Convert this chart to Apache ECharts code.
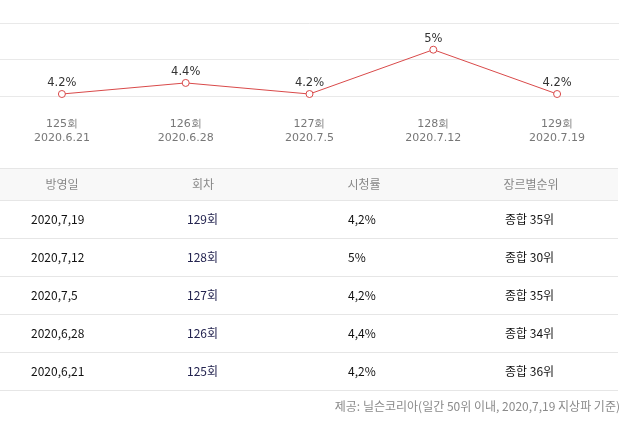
<!DOCTYPE html>
<html>
<head>
<meta charset="utf-8">
<script src="https://cdn.jsdelivr.net/npm/echarts@6/dist/echarts.min.js"></script>
<style>
html,body{margin:0;padding:0;background:#fff;}
#chart{width:625px;height:425px;}
</style>
</head>
<body>
<div id="chart"></div>
<script>
// ---- chart data ----
const episodes = ['125회', '126회', '127회', '128회', '129회'];
const airDates = ['2020.6.21', '2020.6.28', '2020.7.5', '2020.7.12', '2020.7.19'];
const ratings = [4.2, 4.4, 4.2, 5, 4.2];

// ---- table data ----
const tableHeaders = ['방영일', '회차', '시청률', '장르별순위'];
const tableDates = ['2020,7,19', '2020,7,12', '2020,7,5', '2020,6,28', '2020,6,21'];
const tableEpisodes = ['129회', '128회', '127회', '126회', '125회'];
const tableRatings = ['4,2%', '5%', '4,2%', '4,4%', '4,2%'];
const tableRanks = ['종합 35위', '종합 30위', '종합 35위', '종합 34위', '종합 36위'];
const footnote = '제공: 닐슨코리아(일간 50위 이내, 2020,7,19 지상파 기준)';

const chart = echarts.init(document.getElementById('chart'), null, {renderer: 'canvas'});

const categories = episodes.map((e, i) => e + '\n' + airDates[i]);

// table layout
const tblLeft = 0, tblRight = 618;
const headTop = 168, headBottom = 200, rowH = 38;
const headCenters = [62, 203, 364, 531];
const bodyLefts = [31, 187, 348, 505];
const bodyCols = [tableDates, tableEpisodes, tableRatings, tableRanks];
const bodyColors = ['#111', '#23234f', '#111', '#111'];
const lineColor = '#e6e6e6';
const kFont = '"Noto Sans CJK KR", sans-serif';

const graphics = [];
graphics.push({type: 'rect', shape: {x: tblLeft, y: headTop, width: tblRight - tblLeft, height: headBottom - headTop},
  style: {fill: '#f8f8f8'}, silent: true});
graphics.push({type: 'line', shape: {x1: tblLeft, y1: headTop + 0.5, x2: tblRight, y2: headTop + 0.5}, style: {stroke: lineColor, lineWidth: 1}});
tableHeaders.forEach((h, i) => {
  graphics.push({type: 'text', x: headCenters[i], y: (headTop + headBottom) / 2,
    style: {text: h, fill: '#888', font: '12px ' + kFont, align: 'center', verticalAlign: 'middle'}});
});
for (let r = 0; r < tableDates.length; r++) {
  const top = headBottom + r * rowH;
  graphics.push({type: 'line', shape: {x1: tblLeft, y1: top + 0.5, x2: tblRight, y2: top + 0.5}, style: {stroke: lineColor, lineWidth: 1}});
  bodyCols.forEach((col, c) => {
    graphics.push({type: 'text', x: bodyLefts[c], y: top + rowH / 2,
      style: {text: col[r], fill: bodyColors[c], font: '12px ' + kFont, align: 'left', verticalAlign: 'middle'}});
  });
}
const tblBottom = headBottom + tableDates.length * rowH;
graphics.push({type: 'line', shape: {x1: tblLeft, y1: tblBottom + 0.5, x2: tblRight, y2: tblBottom + 0.5}, style: {stroke: lineColor, lineWidth: 1}});
graphics.push({type: 'text', x: 620, y: 406,
  style: {text: footnote, fill: '#8a8a8a', font: '12px ' + kFont, align: 'right', verticalAlign: 'middle'}});

chart.setOption({
  animation: false,
  backgroundColor: '#fff',
  grid: {left: 0, right: 6, top: 23, bottom: 329, containLabel: false},
  xAxis: {
    type: 'category',
    data: categories,
    boundaryGap: true,
    axisLine: {show: false},
    axisTick: {show: false},
    splitLine: {show: false},
    axisLabel: {color: '#777', fontSize: 11, fontFamily: 'DejaVu Sans', lineHeight: 14, margin: 21, interval: 0}
  },
  yAxis: [
    {type: 'value', min: 4.164, max: 5.482, show: true,
      axisLine: {show: false}, axisTick: {show: false}, axisLabel: {show: false}, splitLine: {show: false}},
    {type: 'value', min: 0, max: 2, interval: 1, show: true,
      axisLine: {show: false}, axisTick: {show: false}, axisLabel: {show: false},
      splitLine: {show: true, lineStyle: {color: '#e9e9e9', width: 1}}}
  ],
  series: [{
    type: 'line',
    yAxisIndex: 0,
    data: ratings,
    symbol: 'circle',
    symbolSize: 7,
    itemStyle: {color: '#fff', borderColor: '#d94a4a', borderWidth: 1},
    lineStyle: {color: '#d94a4a', width: 1},
    label: {show: true, position: 'top', distance: 1, color: '#333', fontSize: 11.5, fontFamily: 'DejaVu Sans',
      formatter: p => p.value + '%'}
  }],
  graphic: graphics
});
</script>
</body>
</html>
